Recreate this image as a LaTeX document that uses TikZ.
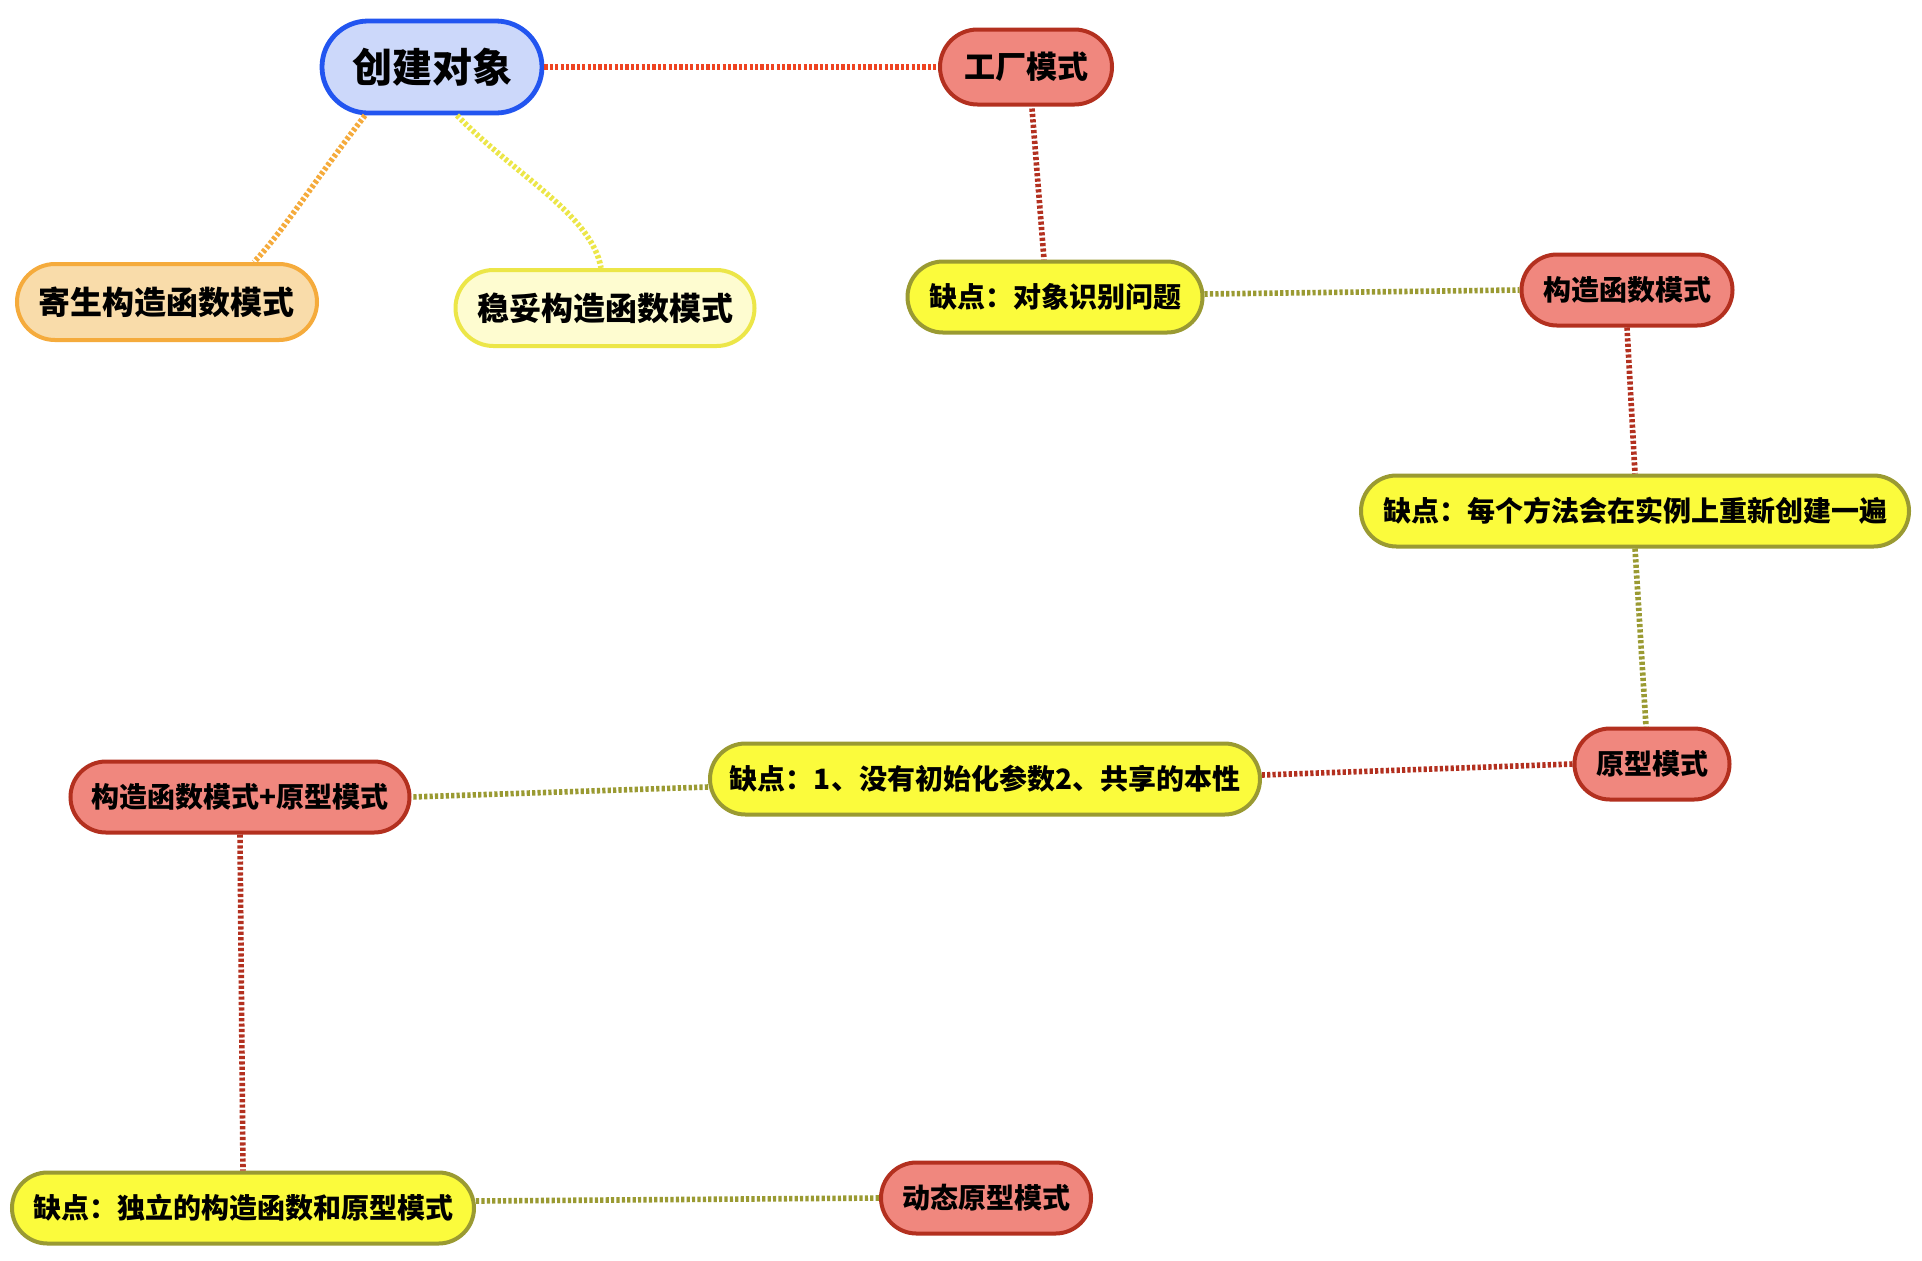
\documentclass[tikz,border=0pt]{standalone}
\usepackage{fontspec}
\newfontfamily\cjk{Noto Sans CJK SC}
\usetikzlibrary{calc}
\definecolor{bluefill}{HTML}{CCD8FA}
\definecolor{blueline}{HTML}{2255F0}
\definecolor{redfill}{HTML}{F0877E}
\definecolor{redline}{HTML}{B3301F}
\definecolor{yelfill}{HTML}{FBFB3C}
\definecolor{yelline}{HTML}{9A9A32}
\definecolor{orgfill}{HTML}{F9DCAA}
\definecolor{orgline}{HTML}{F5AB3C}
\definecolor{ltyfill}{HTML}{FEFCD0}
\definecolor{ltyline}{HTML}{ECE648}
\definecolor{topline}{HTML}{EE4422}
\tikzset{
  pill/.style={rectangle, line width=2pt, inner sep=0pt, align=center,
    font=\cjk\bfseries\fontsize{14pt}{16pt}\selectfont},
  rootbox/.style={pill, fill=bluefill, draw=blueline, line width=2.4pt,
    minimum width=110pt, minimum height=46pt, rounded corners=23pt,
    font=\cjk\bfseries\fontsize{20pt}{22pt}\selectfont},
  redbox/.style={pill, fill=redfill, draw=redline, minimum height=35.5pt, rounded corners=17.75pt},
  yelbox/.style={pill, fill=yelfill, draw=yelline, minimum height=35.5pt, rounded corners=17.75pt},
  orgbox/.style={pill, fill=orgfill, draw=orgline, minimum height=38pt, rounded corners=19pt,
    font=\cjk\bfseries\fontsize{16pt}{18pt}\selectfont},
  ltybox/.style={pill, fill=ltyfill, draw=ltyline, minimum height=38pt, rounded corners=19pt,
    font=\cjk\bfseries\fontsize{16pt}{18pt}\selectfont},
  link/.style={line width=2.8pt, dash pattern=on 1.6pt off 1.1pt},
  toplink/.style={link, draw=topline},
  redlink/.style={link, draw=redline},
  ollink/.style={link, draw=yelline},
  orglink/.style={link, draw=orgline},
  ltylink/.style={link, draw=ltyline},
}
\begin{document}
\begin{tikzpicture}[x=0.5pt,y=-0.5pt]
\useasboundingbox[fill=white] (0,0) rectangle (1922,1260);

\node[rootbox] (a) at (432,67) {创建对象};
\node[redbox, minimum width=86pt, minimum height=37.5pt, rounded corners=18.75pt,
  font=\cjk\bfseries\fontsize{15.5pt}{17pt}\selectfont] (gc) at (1026,67) {工厂模式};
\node[orgbox, minimum width=150pt] (js) at (167,302) {寄生构造函数模式};
\node[ltybox, minimum width=149.5pt] (wt) at (605,308) {稳妥构造函数模式};
\node[yelbox, minimum width=147.5pt] (d1) at (1055,297) {缺点：对象识别问题};
\node[redbox, minimum width=105.5pt] (gz) at (1627,290) {构造函数模式};
\node[yelbox, minimum width=274pt] (d2) at (1635,511) {缺点：每个方法会在实例上重新创建一遍};
\node[redbox, minimum width=77.5pt] (yx) at (1652,764) {原型模式};
\node[yelbox, minimum width=275pt] (d3) at (985,779) {缺点：1、没有初始化参数2、共享的本性};
\node[redbox, minimum width=169.5pt] (gy) at (240,797) {构造函数模式+原型模式};
\node[yelbox, minimum width=231pt] (d4) at (243,1208) {缺点：独立的构造函数和原型模式};
\node[redbox, minimum width=105pt] (dt) at (986,1198) {动态原型模式};

\draw[toplink] (a.east) -- (gc.west);
\draw[redlink] ($(gc.south)+(6,2)$) -- ($(d1.north)+(-11,0)$);
\draw[ollink] ($(d1.east)+(0,-3)$) -- (gz.west);
\draw[redlink] (gz.south) -- (d2.north);
\draw[ollink] (d2.south) -- ($(yx.north)+(-6,0)$);
\draw[redlink] (yx.west) -- ($(d3.east)+(0,-4)$);
\draw[ollink] ($(d3.west)+(0,8)$) -- (gy.east);
\draw[redlink] (gy.south) -- (d4.north);
\draw[ollink] ($(d4.east)+(0,-7)$) -- (dt.west);
\draw[orglink] ($(a.south)+(-67,0)$) .. controls (315,180) and (282,233) .. ($(js.north)+(87,0)$);
\draw[ltylink] ($(a.south)+(25,0)$) .. controls (515,175) and (592,215) .. ($(wt.north)+(-4,0)$);
\end{tikzpicture}
\end{document}
